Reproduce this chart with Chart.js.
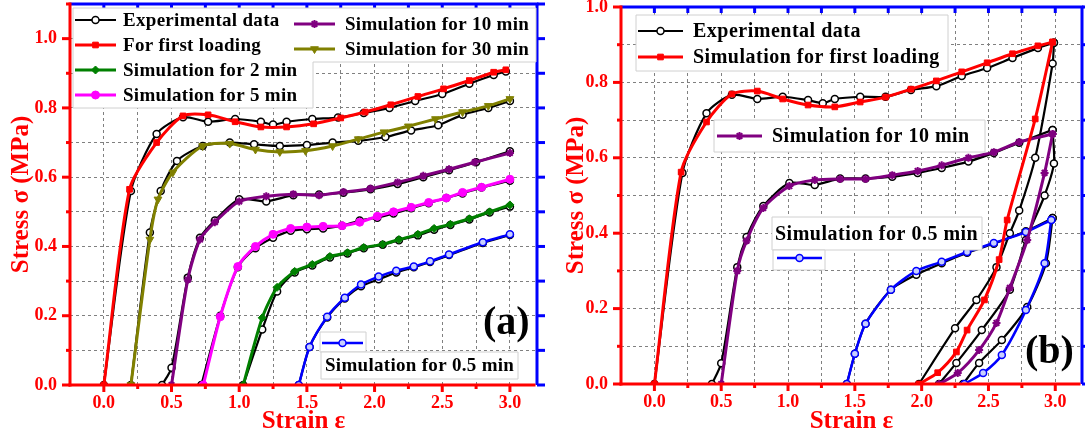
<!DOCTYPE html>
<html><head><meta charset="utf-8">
<script src="https://cdn.jsdelivr.net/npm/chart.js@4"></script>
<style>
html,body{margin:0;padding:0;background:#fff;overflow:hidden;width:1085px;height:441px;position:relative}
canvas{position:absolute}
#ca{left:0;top:-20px;width:550px;height:461px}
#cb{left:550px;top:-20px;width:545px;height:461px}
</style></head><body>
<canvas id="ca" width="550" height="461"></canvas>
<canvas id="cb" width="545" height="461"></canvas>
<script>
// ---------- tick labels ----------
const xLabelValues = [0, 0.5, 1.0, 1.5, 2.0, 2.5, 3.0];
const yLabelValuesA = [0, 0.2, 0.4, 0.6, 0.8, 1.0];
const yLabelValuesB = [0, 0.2, 0.4, 0.6, 0.8, 1.0];

// ---------- legend labels ----------
const legendA = ['Experimental data', 'For first loading', 'Simulation for 2 min', 'Simulation for 5 min', 'Simulation for 10 min', 'Simulation for 30 min', 'Simulation for 0.5 min'];
const legendB = ['Experimental data', 'Simulation for first loading', 'Simulation for 10 min', 'Simulation for 0.5 min'];

// ---------- panel (a) data: [strain, stress] ----------
const aExpFirst = [[0,0],[0.2,0.56],[0.39,0.725],[0.585,0.773],[0.77,0.76],[0.97,0.768],[1.16,0.76],[1.25,0.752],[1.35,0.76],[1.54,0.768],[1.73,0.772],[1.92,0.785],[2.11,0.80],[2.30,0.82],[2.50,0.84],[2.70,0.87],[2.88,0.895],[2.97,0.905]];
const aSimFirst = [[0,0],[0.19,0.565],[0.39,0.70],[0.585,0.777],[0.77,0.78],[0.97,0.76],[1.16,0.745],[1.35,0.745],[1.55,0.754],[1.75,0.771],[1.93,0.788],[2.12,0.809],[2.32,0.833],[2.51,0.855],[2.70,0.879],[2.88,0.903],[2.97,0.91]];
const aExp30 = [[0.2,0],[0.34,0.44],[0.42,0.56],[0.54,0.647],[0.73,0.69],[0.93,0.70],[1.11,0.695],[1.30,0.69],[1.50,0.693],[1.69,0.70],[1.88,0.705],[2.08,0.716],[2.27,0.735],[2.47,0.75],[2.65,0.78],[2.84,0.80],[3.0,0.82]];
const aSim30 = [[0.2,0],[0.34,0.42],[0.40,0.536],[0.51,0.614],[0.73,0.69],[0.93,0.697],[1.12,0.68],[1.30,0.673],[1.49,0.676],[1.69,0.69],[1.88,0.71],[2.07,0.73],[2.25,0.747],[2.45,0.768],[2.65,0.788],[2.84,0.806],[3.0,0.826]];
const aExp10 = [[0.43,0],[0.5,0.05],[0.62,0.31],[0.71,0.425],[0.82,0.475],[1.0,0.536],[1.2,0.53],[1.4,0.548],[1.59,0.55],[1.77,0.555],[1.97,0.565],[2.17,0.58],[2.36,0.60],[2.55,0.62],[2.75,0.643],[3.0,0.675]];
const aSim10 = [[0.5,0],[0.62,0.304],[0.71,0.42],[0.82,0.47],[1.0,0.53],[1.2,0.545],[1.4,0.551],[1.59,0.548],[1.77,0.557],[1.97,0.567],[2.17,0.585],[2.36,0.604],[2.55,0.623],[2.74,0.643],[3.0,0.67]];
const aExp5 = [[0.72,0],[0.86,0.20],[0.99,0.34],[1.12,0.395],[1.25,0.425],[1.38,0.445],[1.50,0.45],[1.62,0.452],[1.76,0.46],[1.89,0.475],[2.02,0.483],[2.14,0.495],[2.27,0.51],[2.40,0.525],[2.53,0.54],[2.65,0.553],[2.79,0.57],[3.0,0.59]];
const aSim5 = [[0.735,0],[0.86,0.197],[0.99,0.342],[1.12,0.40],[1.25,0.435],[1.38,0.452],[1.50,0.456],[1.62,0.458],[1.76,0.46],[1.89,0.47],[2.02,0.487],[2.14,0.50],[2.27,0.513],[2.40,0.527],[2.53,0.54],[2.65,0.556],[2.79,0.571],[3.0,0.594]];
const aExp2 = [[1.03,0],[1.17,0.16],[1.28,0.27],[1.41,0.325],[1.54,0.345],[1.67,0.368],[1.80,0.38],[1.92,0.395],[2.06,0.405],[2.18,0.418],[2.32,0.432],[2.44,0.448],[2.56,0.462],[2.70,0.478],[2.85,0.498],[3.0,0.515]];
const aSim2 = [[1.03,0],[1.17,0.194],[1.28,0.282],[1.41,0.328],[1.54,0.348],[1.67,0.371],[1.80,0.382],[1.92,0.397],[2.06,0.406],[2.18,0.42],[2.32,0.435],[2.44,0.452],[2.56,0.464],[2.70,0.48],[2.85,0.50],[3.0,0.52]];
const aExp05 = [[1.44,0],[1.52,0.11],[1.65,0.195],[1.78,0.25],[1.90,0.285],[2.03,0.305],[2.16,0.325],[2.29,0.34],[2.41,0.355],[2.55,0.375],[2.80,0.41],[3.0,0.433]];
const aSim05 = [[1.44,0],[1.52,0.11],[1.65,0.197],[1.78,0.252],[1.90,0.29],[2.03,0.313],[2.16,0.33],[2.29,0.342],[2.41,0.357],[2.55,0.377],[2.80,0.412],[3.0,0.435]];

// ---------- panel (b) data ----------
const bExpFirstLoad = [[0,0],[0.21,0.56],[0.39,0.718],[0.58,0.767],[0.77,0.756],[0.96,0.762],[1.15,0.753],[1.26,0.745],[1.35,0.756],[1.54,0.762],[1.73,0.762],[1.92,0.78],[2.11,0.79],[2.30,0.817],[2.49,0.838],[2.68,0.865],[2.87,0.891],[2.99,0.905]];
const bExpFirstUnload = [[2.99,0.905],[2.98,0.85],[2.85,0.60],[2.73,0.46],[2.66,0.40],[2.56,0.31],[2.41,0.223],[2.25,0.148],[1.98,0]];
const bSimFirstLoad = [[0,0],[0.2,0.562],[0.39,0.695],[0.58,0.769],[0.77,0.777],[0.96,0.756],[1.15,0.74],[1.35,0.735],[1.54,0.748],[1.73,0.761],[1.92,0.782],[2.11,0.804],[2.30,0.828],[2.49,0.852],[2.68,0.876],[2.87,0.897],[2.98,0.907]];
const bSimFirstUnload = [[2.98,0.907],[2.85,0.703],[2.64,0.435],[2.58,0.33],[2.47,0.223],[2.34,0.143],[2.26,0.085],[2.12,0.03],[1.98,0]];
const bExp10Load = [[0.43,0],[0.5,0.055],[0.62,0.31],[0.69,0.39],[0.815,0.472],[1.01,0.533],[1.2,0.528],[1.39,0.545],[1.58,0.545],[1.78,0.55],[1.97,0.56],[2.15,0.573],[2.35,0.59],[2.54,0.613],[2.73,0.64],[2.98,0.674]];
const bExp10Unload = [[2.98,0.674],[2.99,0.585],[2.92,0.50],[2.78,0.382],[2.66,0.25],[2.45,0.143],[2.26,0.056],[2.13,0]];
const bSim10Load = [[0.5,0],[0.62,0.30],[0.69,0.38],[0.815,0.467],[1.01,0.525],[1.20,0.541],[1.39,0.544],[1.58,0.544],[1.78,0.554],[1.97,0.565],[2.15,0.58],[2.35,0.60],[2.54,0.615],[2.73,0.642],[2.98,0.663]];
const bSim10Unload = [[2.98,0.663],[2.92,0.56],[2.79,0.382],[2.66,0.255],[2.56,0.162],[2.43,0.09],[2.27,0.029],[2.13,0]];
const bExp05Load = [[1.44,0],[1.5,0.08],[1.58,0.16],[1.77,0.25],[1.96,0.29],[2.15,0.32],[2.34,0.348],[2.54,0.372],[2.78,0.405],[2.98,0.44]];
const bExp05Unload = [[2.98,0.44],[2.93,0.32],[2.79,0.204],[2.60,0.117],[2.43,0.056],[2.31,0]];
const bSim05Load = [[1.44,0],[1.5,0.08],[1.58,0.16],[1.77,0.25],[1.96,0.30],[2.15,0.324],[2.34,0.35],[2.54,0.374],[2.78,0.403],[2.97,0.435]];
const bSim05Unload = [[2.97,0.435],[2.92,0.32],[2.78,0.196],[2.60,0.077],[2.46,0.029],[2.32,0]];

// ---------- styles ----------
const STY = {
  exp:   {color:'#000000', bg:'#ffffff', style:'circle',   rot:0,   r:3.5, w:2.2, pbw:1.5},
  first: {color:'#ff0000', bg:'#ff0000', style:'rect',     rot:0,   r:4,   w:3,   pbw:1},
  m2:    {color:'#008000', bg:'#008000', style:'rectRot',  rot:0,   r:4,   w:3,   pbw:1},
  m5:    {color:'#ff00ff', bg:'#ff00ff', style:'circle',   rot:0,   r:4,   w:3,   pbw:1},
  m10:   {color:'#800080', bg:'#800080', style:'star',     rot:0,   r:4,   w:3,   pbw:2},
  m30:   {color:'#808000', bg:'#808000', style:'triangle', rot:180, r:4.5, w:3,   pbw:1},
  m05:   {color:'#0000ff', bg:'#c8d0ff', style:'circle',   rot:0,   r:3.5, w:2.5, pbw:1.5}
};
const SERIF = '"Liberation Serif","Times New Roman",serif';

function ds(label, pts, s, order){
  return {
    label, data: pts.map(p => ({x:p[0], y:p[1]})), showLine:true,
    borderColor:s.color, backgroundColor:s.bg, borderWidth:s.w,
    pointStyle:s.style, pointRotation:s.rot, pointRadius:s.r, pointHoverRadius:s.r,
    pointBackgroundColor:s.bg, pointBorderColor:s.color, pointBorderWidth:s.pbw,
    tension:0.25, order
  };
}

function nearAny(v, arr){ return arr.some(a => Math.abs(a - v) < 1e-6); }

function drawMarker(ctx, s, x, y){
  ctx.save();
  ctx.fillStyle = s.bg; ctx.strokeStyle = s.color; ctx.lineWidth = s.pbw;
  try {
    Chart.helpers.drawPoint(ctx, {pointStyle:s.style, rotation:s.rot, radius:s.r, borderWidth:s.pbw}, x, y);
  } catch(e) {
    ctx.beginPath(); ctx.arc(x, y, s.r, 0, Math.PI*2); ctx.fill(); ctx.stroke();
  }
  ctx.restore();
}

function entry(ctx, s, x1, x2, y, tx, label, font, spacing){
  ctx.save();
  ctx.strokeStyle = s.color; ctx.lineWidth = s.w;
  ctx.beginPath(); ctx.moveTo(x1, y); ctx.lineTo(x2, y); ctx.stroke();
  drawMarker(ctx, s, (x1 + x2) / 2, y);
  ctx.fillStyle = '#000'; ctx.font = font; ctx.textBaseline = 'middle'; ctx.textAlign = 'left';
  if ('letterSpacing' in ctx) ctx.letterSpacing = spacing + 'px';
  ctx.fillText(label, tx, y + 1);
  ctx.restore();
}

function box(ctx, pts){
  ctx.save();
  ctx.beginPath();
  ctx.moveTo(pts[0][0], pts[0][1]);
  for (let i = 1; i < pts.length; i++) ctx.lineTo(pts[i][0], pts[i][1]);
  ctx.closePath();
  ctx.fillStyle = '#ffffff'; ctx.fill();
  ctx.strokeStyle = '#d0d0d0'; ctx.lineWidth = 1; ctx.stroke();
  ctx.restore();
}
function rect(x1, y1, x2, y2){ return [[x1,y1],[x2,y1],[x2,y2],[x1,y2]]; }

function drawFrame(chart){
  const {ctx, chartArea:a, scales:{x, y}} = chart;
  const L = (x1,y1,x2,y2) => { ctx.beginPath(); ctx.moveTo(x1,y1); ctx.lineTo(x2,y2); ctx.stroke(); };
  ctx.save();
  ctx.lineCap = 'butt';
  // blue top & right
  ctx.strokeStyle = '#0000ff'; ctx.lineWidth = 3;
  L(a.left, a.top, a.right + 1.5, a.top);
  L(a.right, a.top, a.right, a.bottom);
  x.ticks.forEach(t => {
    if (t.value < -1e-6) return;
    const px = x.getPixelForValue(t.value);
    L(px, a.top, px, a.top + 6);
  });
  y.ticks.forEach(t => {
    const py = y.getPixelForValue(t.value);
    L(a.right, py, a.right + 8, py);
  });
  // red left & bottom
  ctx.strokeStyle = '#ff0000'; ctx.lineWidth = 3;
  L(a.left, a.top - 1.5, a.left, a.bottom + 1.5);
  L(a.left - 1.5, a.bottom, a.right - 1.5, a.bottom);
  y.ticks.forEach(t => {
    const py = y.getPixelForValue(t.value);
    const major = Math.round(t.value * 10) % 2 === 0;
    L(a.left - (major ? 8 : 4), py, a.left, py);
  });
  x.ticks.forEach(t => {
    if (t.value < -1e-6) return;
    const px = x.getPixelForValue(t.value);
    const major = Math.round(t.value * 4) % 2 === 0;
    L(px, a.bottom, px, a.bottom + (major ? 7 : 4));
  });
  ctx.restore();
}

function makeOptions(yMax, yLabels, yWidth, xHeight, pad, yTitlePad){
  return {
    responsive:false, animation:false, devicePixelRatio:1,
    layout:{padding:pad},
    plugins:{legend:{display:false}, tooltip:{enabled:false}},
    scales:{
      x:{type:'linear', min:-0.25, max:3.2,
        afterFit: s => { s.height = xHeight; },
        grid:{color:'#808080', lineWidth:1, drawTicks:false, borderDash:[3,3]},
        border:{display:false, dash:[3,3]},
        ticks:{stepSize:0.25, includeBounds:false, padding:8, color:'#ff0000', maxRotation:0, autoSkip:false,
          font:{family:SERIF, size:18, weight:'bold'},
          callback: v => (v >= -1e-6 && nearAny(v, xLabelValues)) ? v.toFixed(1) : ''},
        title:{display:true, text:'Strain ε', color:'#ff0000', padding:{top:0, bottom:4},
          font:{family:SERIF, size:25, weight:'bold'}}
      },
      y:{type:'linear', min:0, max:yMax,
        afterFit: s => { s.width = yWidth; },
        grid:{color:'#808080', lineWidth:1, drawTicks:false, borderDash:[3,3]},
        border:{display:false, dash:[3,3]},
        ticks:{stepSize:0.1, includeBounds:false, padding:13, color:'#ff0000', autoSkip:false,
          font:{family:SERIF, size:18, weight:'bold'},
          callback: v => nearAny(v, yLabels) ? v.toFixed(1) : ''},
        title:{display:true, text:'Stress σ (MPa)', color:'#ff0000', padding:{top:yTitlePad, bottom:0},
          font:{family:SERIF, size:25, weight:'bold'}}
      }
    }
  };
}

// ---------- panel (a) ----------
const OA = {x:0, y:-20};
const FA = 'bold 19px ' + SERIF;
const pluginA = {
  id:'decorA',
  afterDatasetsDraw(chart){
    const ctx = chart.ctx;
    const P = (x, y) => [x - OA.x, y - OA.y];
    drawFrame(chart);
    box(ctx, [P(73,8),P(536,8),P(536,62),P(313,62),P(313,108),P(73,108)]);
    const rowsL = [20, 45, 70, 95];
    const stL = [STY.exp, STY.first, STY.m2, STY.m5];
    for (let i = 0; i < 4; i++) {
      const p1 = P(75, rowsL[i]), p2 = P(116, rowsL[i]), t = P(123, rowsL[i]);
      entry(ctx, stL[i], p1[0], p2[0], p1[1], t[0], legendA[i], FA, 0.3);
    }
    const rowsR = [24, 49];
    const stR = [STY.m10, STY.m30];
    for (let i = 0; i < 2; i++) {
      const p1 = P(294, rowsR[i]), p2 = P(335, rowsR[i]), t = P(345, rowsR[i]);
      entry(ctx, stR[i], p1[0], p2[0], p1[1], t[0], legendA[4 + i], FA, 0.3);
    }
    // 0.5 min legend
    const b1 = rect(...P(320,332), ...P(366,352));
    box(ctx, b1);
    const b2 = rect(...P(321,352), ...P(518,379));
    box(ctx, b2);
    const q1 = P(322, 343), q2 = P(363, 343);
    entry(ctx, STY.m05, q1[0], q2[0], q1[1], -1000, '', FA, 0);
    ctx.save();
    ctx.fillStyle = '#000'; ctx.font = FA; ctx.textBaseline = 'middle';
    if ('letterSpacing' in ctx) ctx.letterSpacing = '0.3px';
    const tp = P(325, 366);
    ctx.fillText(legendA[6], tp[0], tp[1]);
    ctx.font = 'bold 40px ' + SERIF;
    if ('letterSpacing' in ctx) ctx.letterSpacing = '0px';
    const lp = P(483, 324);
    ctx.fillText('(a)', lp[0], lp[1]);
    ctx.restore();
  }
};

new Chart(document.getElementById('ca'), {
  type:'scatter',
  data:{datasets:[
    ds(legendA[0], aExpFirst, STY.exp, 2),
    ds(legendA[0], aExp30, STY.exp, 2),
    ds(legendA[0], aExp10, STY.exp, 2),
    ds(legendA[0], aExp5, STY.exp, 2),
    ds(legendA[0], aExp2, STY.exp, 2),
    ds(legendA[0], aExp05, STY.exp, 2),
    ds(legendA[1], aSimFirst, STY.first, 1),
    ds(legendA[5], aSim30, STY.m30, 1),
    ds(legendA[4], aSim10, STY.m10, 1),
    ds(legendA[3], aSim5, STY.m5, 1),
    ds(legendA[2], aSim2, STY.m2, 1),
    ds(legendA[6], aSim05, STY.m05, 1)
  ]},
  options: makeOptions(1.1, yLabelValuesA, 70, 56, {top:24, right:13, bottom:0, left:0}, 7),
  plugins:[pluginA]
});

// ---------- panel (b) ----------
const OB = {x:550, y:-20};
const FB = 'bold 20px ' + SERIF;
const pluginB = {
  id:'decorB',
  afterDatasetsDraw(chart){
    const ctx = chart.ctx;
    const P = (x, y) => [x - OB.x, y - OB.y];
    drawFrame(chart);
    box(ctx, rect(...P(636,15), ...P(948,71)));
    const p = (x, y) => P(x, y);
    let a1 = p(638,31), a2 = p(683,31), at = p(693,31);
    entry(ctx, STY.exp, a1[0], a2[0], a1[1], at[0], legendB[0], FB, 0.5);
    a1 = p(638,57); a2 = p(683,57); at = p(693,57);
    entry(ctx, STY.first, a1[0], a2[0], a1[1], at[0], legendB[1], FB, 0.5);
    box(ctx, rect(...P(714,120), ...P(985,152)));
    a1 = p(717,136); a2 = p(762,136); at = p(772,136);
    entry(ctx, STY.m10, a1[0], a2[0], a1[1], at[0], legendB[2], FB, 0.5);
    box(ctx, rect(...P(772,217), ...P(982,250)));
    box(ctx, rect(...P(773,250), ...P(825,270)));
    a1 = p(777,258); a2 = p(822,258);
    entry(ctx, STY.m05, a1[0], a2[0], a1[1], -1000, '', FB, 0);
    ctx.save();
    ctx.fillStyle = '#000'; ctx.font = FB; ctx.textBaseline = 'middle';
    if ('letterSpacing' in ctx) ctx.letterSpacing = '0.5px';
    const tp = P(775, 235);
    ctx.fillText(legendB[3], tp[0], tp[1]);
    ctx.font = 'bold 40px ' + SERIF;
    if ('letterSpacing' in ctx) ctx.letterSpacing = '0px';
    const lp = P(1025, 353);
    ctx.fillText('(b)', lp[0], lp[1]);
    ctx.restore();
  }
};

new Chart(document.getElementById('cb'), {
  type:'scatter',
  data:{datasets:[
    ds(legendB[0], bExpFirstLoad, STY.exp, 2),
    ds(legendB[0], bExpFirstUnload, STY.exp, 2),
    ds(legendB[0], bExp10Load, STY.exp, 2),
    ds(legendB[0], bExp10Unload, STY.exp, 2),
    ds(legendB[0], bExp05Load, STY.exp, 2),
    ds(legendB[0], bExp05Unload, STY.exp, 2),
    ds(legendB[1], bSimFirstLoad, STY.first, 1),
    ds(legendB[1], bSimFirstUnload, STY.first, 1),
    ds(legendB[2], bSim10Load, STY.m10, 1),
    ds(legendB[2], bSim10Unload, STY.m10, 1),
    ds(legendB[3], bSim05Load, STY.m05, 1),
    ds(legendB[3], bSim05Unload, STY.m05, 1)
  ]},
  options: makeOptions(1.0, yLabelValuesB, 71, 57, {top:27, right:13, bottom:0, left:0}, 12),
  plugins:[pluginB]
});
</script>
</body></html>
